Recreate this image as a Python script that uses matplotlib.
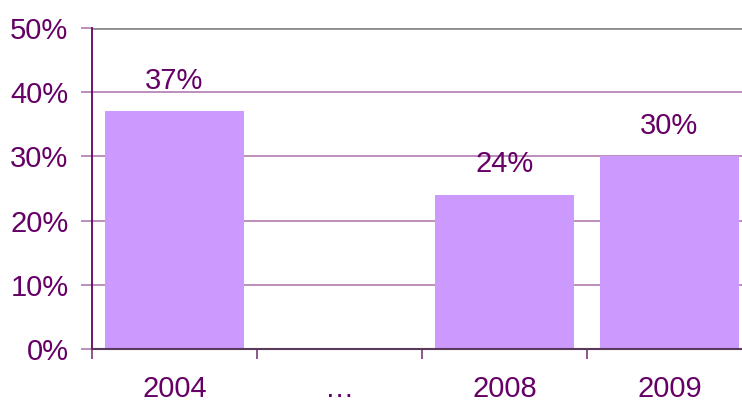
import matplotlib
matplotlib.use("Agg")
import matplotlib.pyplot as plt
import numpy as np

categories = ["2004", "…", "2008", "2009"]
values = [37, None, 24, 30]
labels = ["37%", "", "24%", "30%"]
yticks = [0, 10, 20, 30, 40, 50]
ytick_labels = ["0%", "10%", "20%", "30%", "40%", "50%"]

plt.rcParams['font.family'] = ['Liberation Sans', 'DejaVu Sans']
txt = "#660066"
fig = plt.figure(figsize=(7.42, 4.03), dpi=100)
ax = fig.add_axes([92/742, 54/403, 660/742, 321/403])

x = np.arange(len(categories))
for xi, v, lab in zip(x, values, labels):
    if v is None:
        continue
    ax.bar(xi, v, width=0.84, color="#CC99FF", zorder=2)
    ax.text(xi, v + 4.8, lab, ha="center", va="center", fontsize=21, color=txt)

ax.set_xlim(-0.5, len(categories) - 0.5)
ax.set_ylim(0, 50)
ax.set_yticks(yticks)
ax.set_yticklabels(ytick_labels)
ax.set_xticks(x)
ax.set_xticklabels(categories)
ax.set_xticks(np.arange(len(categories) + 1) - 0.5, minor=True)
ax.tick_params(axis="x", which="major", length=0, pad=19, labelsize=21, labelcolor=txt)
ax.tick_params(axis="x", which="minor", length=7, width=1.2, color="#7A3A7A", direction="out")
ax.tick_params(axis="y", length=8, width=1.2, color="#B07AB0", pad=9, labelsize=21, labelcolor=txt)

for yv in yticks[1:-1]:
    ax.axhline(yv, color="#B07AB0", lw=1.2, zorder=1)
ax.axhline(50, color="#8C8C8C", lw=2, zorder=1)
for s in ["top", "right"]:
    ax.spines[s].set_visible(False)
ax.spines["left"].set_color("#660066")
ax.spines["left"].set_linewidth(1.3)
ax.spines["bottom"].set_color("#5A3A5A")
ax.spines["bottom"].set_linewidth(1.5)
ax.spines["bottom"].set_zorder(3)

fig.savefig("out.png", dpi=100)
